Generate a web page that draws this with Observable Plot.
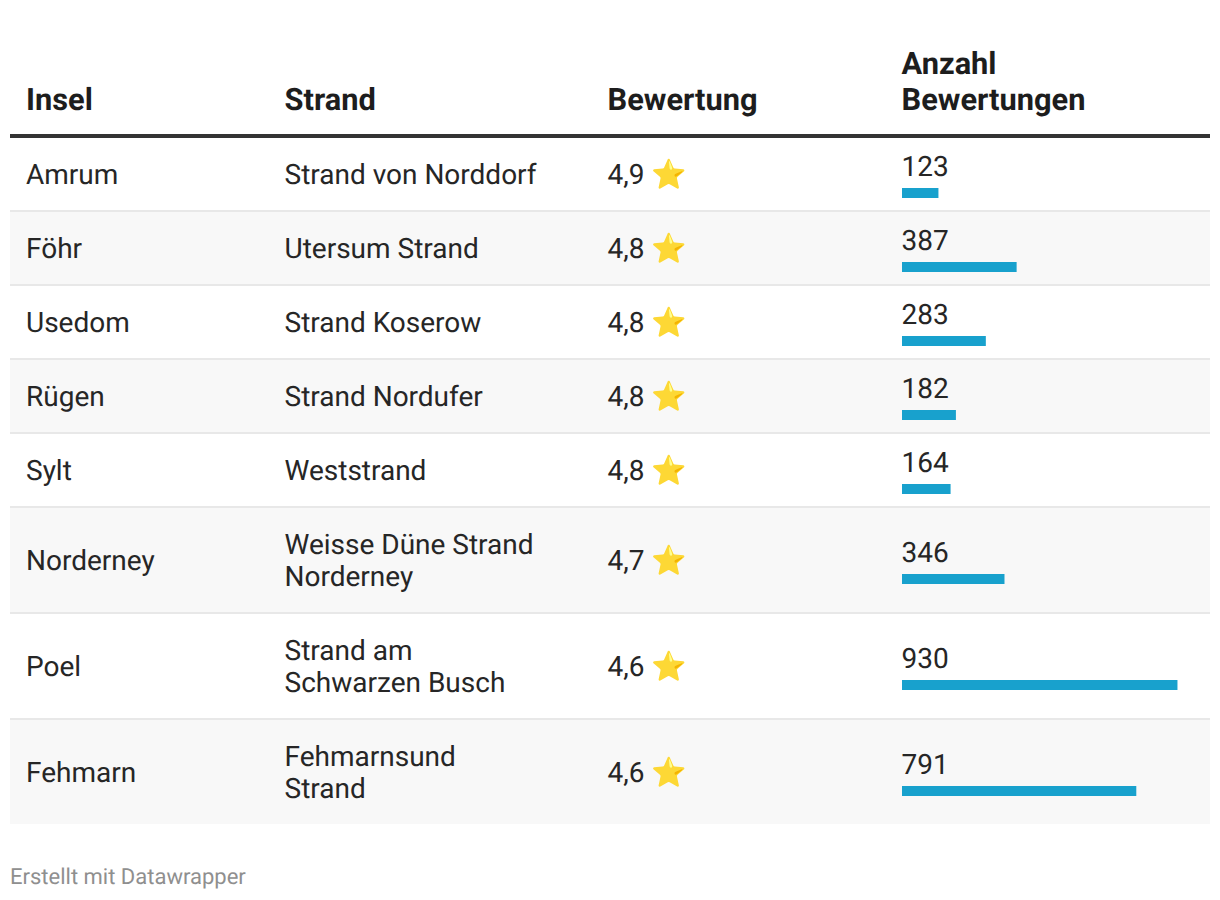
<!DOCTYPE html>
<html lang="de">
<head>
<meta charset="utf-8">
<script src="https://cdn.jsdelivr.net/npm/d3@7"></script>
<script src="https://cdn.jsdelivr.net/npm/@observablehq/plot@0.6"></script>
<style>
html,body{margin:0;padding:0;background:#fff}
svg{display:block}
svg text{text-rendering:geometricPrecision}
</style>
</head>
<body>
<div id="chart"></div>
<script>
const headers = ["Insel", "Strand", "Bewertung", "Anzahl\nBewertungen"];
const inseln = ["Amrum", "Föhr", "Usedom", "Rügen", "Sylt", "Norderney", "Poel", "Fehmarn"];
const straende = ["Strand von Norddorf", "Utersum Strand", "Strand Koserow", "Strand Nordufer", "Weststrand", "Weisse Düne Strand\nNorderney", "Strand am\nSchwarzen Busch", "Fehmarnsund\nStrand"];
const bewertungen = ["4,9", "4,8", "4,8", "4,8", "4,8", "4,7", "4,6", "4,6"];
const anzahl = [123, 387, 283, 182, 164, 346, 930, 791];
const footer = "Erstellt mit Datawrapper";

// layout
const W = 1220, H = 900, L = 10, R = 1210;
const colX = [25.5, 284, 607, 901];
const barX = 902;
const top0 = 138, rowH1 = 74, rowH2 = 106;
const k = 0.2962;
const px = p => (p - barX) / k;
let cursor = top0;
const rows = inseln.map((insel, i) => {
  const h = straende[i].includes("\n") ? rowH2 : rowH1;
  const r = {i, insel, strand: straende[i], wert: bewertungen[i], n: anzahl[i], top: cursor, bottom: cursor + h, mid: cursor + (h - 2) / 2};
  cursor += h;
  return r;
});
rows[rows.length - 1].bottom -= 2;
const font = "Roboto, sans-serif";
const ink = "#1d1d1d";
const bodyInk = "#262626";
const fs = 28, lh = 32 / 28;
const col = (text, c, o = {}) => Plot.text(rows, {text, y: d => d.mid - 1, frameAnchor: "left", dx: colX[c], textAnchor: "start", lineAnchor: "middle", lineHeight: lh, fontSize: fs, fill: bodyInk, fontFamily: font, ...o});

const chart = Plot.plot({
  width: W, height: H,
  marginTop: 0, marginRight: 0, marginBottom: 0, marginLeft: 0,
  style: {fontFamily: font, background: "#fff"},
  x: {axis: null, domain: [px(0), px(W)], range: [0, W]},
  y: {axis: null, domain: [0, H], range: [0, H]},
  marks: [
    Plot.rect(rows.filter(d => d.i % 2 === 1), {x1: px(L), x2: px(R), y1: "top", y2: "bottom", fill: "#f8f8f8"}),
    Plot.rect(rows.slice(0, -1), {x1: px(L), x2: px(R), y1: d => d.bottom - 2, y2: "bottom", fill: "#e8e8e8"}),
    Plot.rect([0], {x1: px(L), x2: px(R), y1: top0 - 4, y2: top0, fill: "#333333"}),
    ...headers.map((t, c) => Plot.text([t], {text: d => d, y: 109, frameAnchor: "left", dx: colX[c], textAnchor: "start", lineAnchor: "bottom", lineHeight: 36 / 30.8, fontSize: 30.8, fontWeight: 700, fill: ink, fontFamily: font})),
    col("insel", 0),
    col("strand", 1),
    col("wert", 2),
    col(() => "⭐", 2, {dx: colX[2] + 43.5, fontSize: 28.5}),
    col("n", 3, {text: d => String(d.n), y: d => d.mid - 9}),
    Plot.rect(rows, {x1: 0, x2: "n", y1: d => d.mid + 14, y2: d => d.mid + 24, fill: "#18a1cd"}),
    Plot.text([footer], {text: d => d, y: 876, frameAnchor: "left", dx: L - 0.5, textAnchor: "start", lineAnchor: "middle", fontSize: 22, fill: "#8f8f8f", fontFamily: font})
  ]
});
document.getElementById("chart").append(chart);
</script>
</body>
</html>
